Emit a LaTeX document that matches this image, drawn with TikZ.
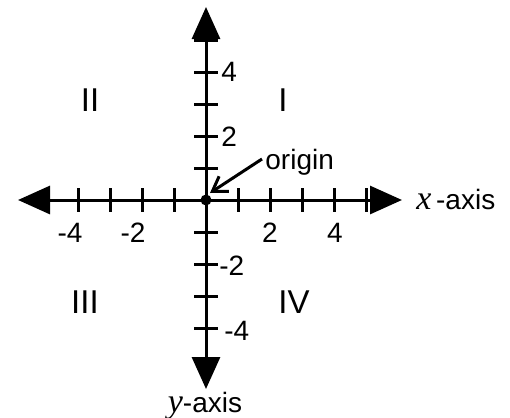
\documentclass[tikz,border=0pt]{standalone}
\usepackage{fontspec}
\setmainfont{Liberation Sans}
\newfontfamily\serifit{Liberation Serif}
\usetikzlibrary{arrows.meta}
\tikzset{
  axisline/.style={line width=1.5pt, {Triangle[length=16pt,width=14pt]}-{Triangle[length=16pt,width=14pt]}},
  tickmark/.style={line width=1.5pt},
  lbl/.style={font=\fontsize{14}{16}\selectfont, inner sep=0pt},
  quad/.style={font=\fontsize{16.5}{18}\selectfont, inner sep=0pt},
  ptr/.style={line width=1.5pt, -{Straight Barb[length=7pt,width=9pt,line width=1.5pt]}}
}
\begin{document}
\begin{tikzpicture}[x=0.5pt,y=-0.5pt]
\useasboundingbox (0,0) rectangle (510,418);
% axis end points
\coordinate (L) at (18,200);
\coordinate (R) at (402,200);
\coordinate (T) at (206,7);
\coordinate (B) at (206,389);
\coordinate (O) at (206,200);
% ticks
\foreach \i in {-5,-4,-3,-2,-1,1,2,3,4,5} {
  \draw[tickmark] (206+32*\i,188) -- (206+32*\i,212);
  \draw[tickmark] (194,200-32*\i) -- (218,200-32*\i);
}
\draw[axisline] (L) -- (R);
\draw[axisline] (T) -- (B);
\fill (O) circle (5.5);
% x labels
\node[lbl] (xm4) at (70,233) {-4};
\node[lbl] (xm2) at (133,233) {-2};
\node[lbl] (x2) at (270,233) {2};
\node[lbl] (x4) at (335,233) {4};
% y labels
\node[lbl,anchor=west] (y4) at (221,72) {4};
\node[lbl,anchor=west] (y2) at (221,137) {2};
\node[lbl,anchor=west] (ym2) at (219,266) {-2};
\node[lbl,anchor=west] (ym4) at (224,331) {-4};
% quadrants
\node[quad] (q1) at (283,100) {I};
\node[quad] (q2) at (90,100) {II};
\node[quad] (q3) at (85,302) {III};
\node[quad] (q4) at (294,302) {IV};
% origin
\node[lbl,anchor=west] (orig) at (265,162) {origin};
\coordinate (os) at (262,159);
\draw[ptr] (os) -- (210,193);
% axis names
\node[lbl,anchor=west] (xax) at (416,199) {{\serifit\itshape\fontsize{17}{18}\selectfont x}\,-axis};
\node[lbl] (yax) at (205,406) {{\serifit\itshape\fontsize{17}{18}\selectfont y}-axis};
\end{tikzpicture}
\end{document}
